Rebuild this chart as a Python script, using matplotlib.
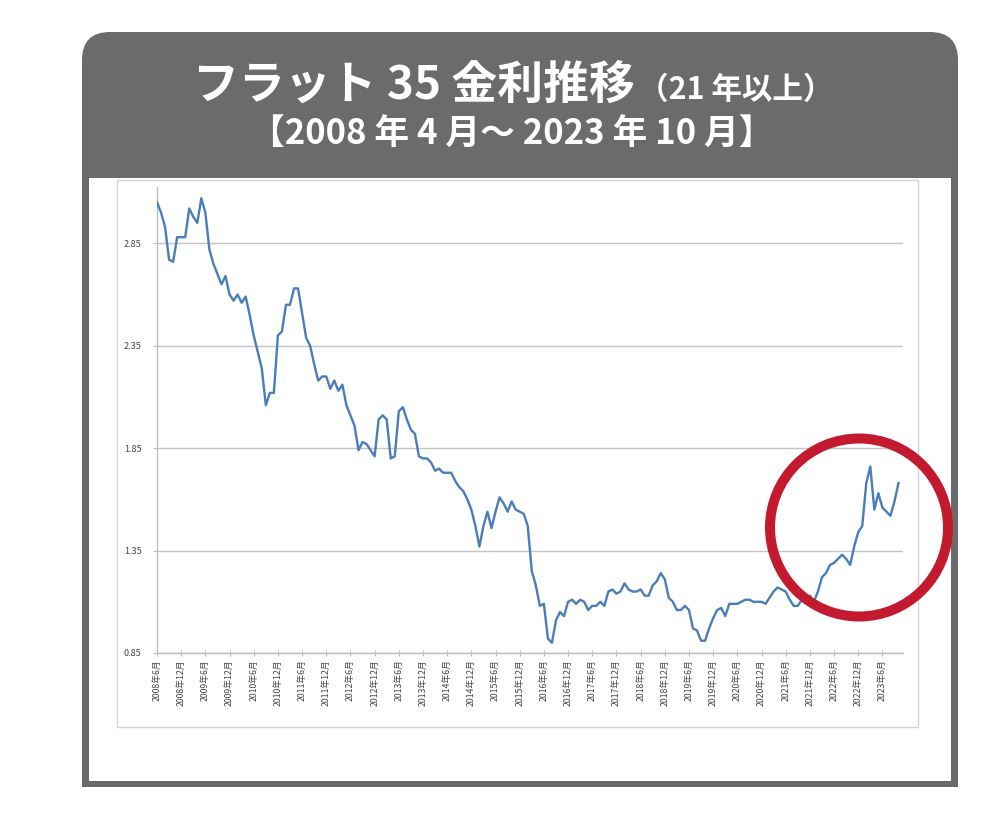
import numpy as np
import matplotlib
matplotlib.use('Agg')
import matplotlib.pyplot as plt
from matplotlib.patches import FancyBboxPatch, Rectangle, Ellipse

plt.rcParams['font.family'] = ['Noto Sans CJK JP', 'DejaVu Sans']

# ---- data (monthly rate, %) ----
rates = [
    3.05, 3.00, 2.93, 2.77, 2.76, 2.88, 2.88, 2.88, 3.02, 2.98,
    2.95, 3.07, 3.00, 2.82, 2.75, 2.70, 2.65, 2.69, 2.60, 2.57,
    2.60, 2.56, 2.59, 2.50, 2.40, 2.32, 2.24, 2.06, 2.12, 2.12,
    2.40, 2.42, 2.55, 2.55, 2.63, 2.63, 2.51, 2.39, 2.35, 2.26,
    2.18, 2.20, 2.20, 2.14, 2.18, 2.13, 2.16, 2.06, 2.01, 1.96,
    1.84, 1.88, 1.87, 1.84, 1.81, 1.99, 2.01, 1.99, 1.80, 1.81,
    2.03, 2.05, 1.99, 1.94, 1.92, 1.81, 1.80, 1.80, 1.78, 1.74,
    1.75, 1.73, 1.73, 1.73, 1.69, 1.66, 1.64, 1.60, 1.55, 1.47,
    1.37, 1.47, 1.54, 1.46, 1.54, 1.61, 1.58, 1.54, 1.59, 1.55,
    1.54, 1.53, 1.47, 1.25, 1.18, 1.08, 1.09, 0.92, 0.90, 1.01,
    1.05, 1.03, 1.10, 1.11, 1.09, 1.11, 1.10, 1.06, 1.08, 1.08,
    1.10, 1.08, 1.15, 1.16, 1.14, 1.15, 1.19, 1.16, 1.15, 1.15,
    1.16, 1.13, 1.13, 1.18, 1.20, 1.24, 1.21, 1.12, 1.10, 1.06,
    1.06, 1.08, 1.06, 0.97, 0.96, 0.91, 0.91, 0.97, 1.02, 1.06,
    1.07, 1.03, 1.09, 1.09, 1.09, 1.10, 1.11, 1.11, 1.10, 1.10,
    1.10, 1.09, 1.12, 1.15, 1.17, 1.16, 1.15, 1.11, 1.08, 1.08,
    1.11, 1.12, 1.13, 1.10, 1.15, 1.22, 1.24, 1.28, 1.29, 1.31,
    1.33, 1.31, 1.28, 1.37, 1.44, 1.47, 1.68, 1.76, 1.55, 1.63,
    1.56, 1.54, 1.52, 1.59, 1.68,
]
tick_labels = [
    '2008年6月', '2008年12月', '2009年6月', '2009年12月', '2010年6月', '2010年12月',
    '2011年6月', '2011年12月', '2012年6月', '2012年12月', '2013年6月', '2013年12月',
    '2014年6月', '2014年12月', '2015年6月', '2015年12月', '2016年6月', '2016年12月',
    '2017年6月', '2017年12月', '2018年6月', '2018年12月', '2019年6月', '2019年12月',
    '2020年6月', '2020年12月', '2021年6月', '2021年12月', '2022年6月', '2022年12月',
    '2023年6月',
]
y_ticks = [0.85, 1.35, 1.85, 2.35, 2.85]
title_main = 'フラット 35 金利推移'
title_sub = '（21 年以上）'
period = '【2008 年 4 月～ 2023 年 10 月】'

W, H = 1000, 824
fig = plt.figure(figsize=(W / 100, H / 100), dpi=100)
fig.patch.set_facecolor('white')

# background frame (pixel coordinates)
bg = fig.add_axes([0, 0, 1, 1])
bg.set_xlim(0, W)
bg.set_ylim(H, 0)
bg.axis('off')
gray = '#6b6b6b'
bg.add_patch(FancyBboxPatch((82, 32), 876, 200,
                            boxstyle='round,pad=0,rounding_size=28',
                            fc=gray, ec='none'))
bg.add_patch(Rectangle((82, 150), 876, 637, fc=gray, ec='none'))
bg.add_patch(Rectangle((89, 178), 862, 603, fc='white', ec='none'))
bg.add_patch(Rectangle((117, 180), 801, 547, fc='white', ec='#d4d4d4', lw=1))

bg.text(193, 87, title_main, color='white', fontsize=33, fontweight='bold',
        ha='left', va='center')
bg.text(638, 90, title_sub, color='white', fontsize=22, fontweight='bold',
        ha='left', va='center')
bg.text(512, 134, period, color='white', fontsize=25, fontweight='bold',
        ha='center', va='center')

# chart axes
x0, x1, ytop, ybot = 157, 903, 187, 653
ax = fig.add_axes([x0 / W, 1 - ybot / H, (x1 - x0) / W, (ybot - ytop) / H])
ax.patch.set_alpha(0)
x = np.arange(len(rates))
ax.plot(x, rates, color='#4a7dba', lw=1.7, zorder=3)
ax.set_xlim(0, (x1 - x0) / 4.03)
ax.set_ylim(0.85, 3.125)
ax.set_yticks(y_ticks)
ax.set_yticklabels([f'{v:.2f}' for v in y_ticks], fontsize=6.5, color='#444444')
ax.set_xticks(np.arange(0, 6 * len(tick_labels), 6))
ax.set_xticklabels(tick_labels, rotation=90, fontsize=6.3, color='#444444')
ax.grid(axis='y', color='#c4c4c4', lw=1)
ax.grid(axis='x', visible=False)
for s in ('top', 'right'):
    ax.spines[s].set_visible(False)
for s in ('left', 'bottom'):
    ax.spines[s].set_color('#bdbdbd')
    ax.spines[s].set_linewidth(1)
ax.tick_params(axis='x', direction='inout', length=5, color='#bdbdbd', pad=2)
ax.tick_params(axis='y', direction='out', length=3, color='#bdbdbd', pad=8)

# overlay annotation circle
ov = fig.add_axes([0, 0, 1, 1])
ov.set_xlim(0, W)
ov.set_ylim(H, 0)
ov.axis('off')
ov.patch.set_alpha(0)
ov.add_patch(Ellipse((859, 527.5), 178, 178, fill=False, ec='#c41a30', lw=7.2))

fig.savefig('out.png', dpi=100)
